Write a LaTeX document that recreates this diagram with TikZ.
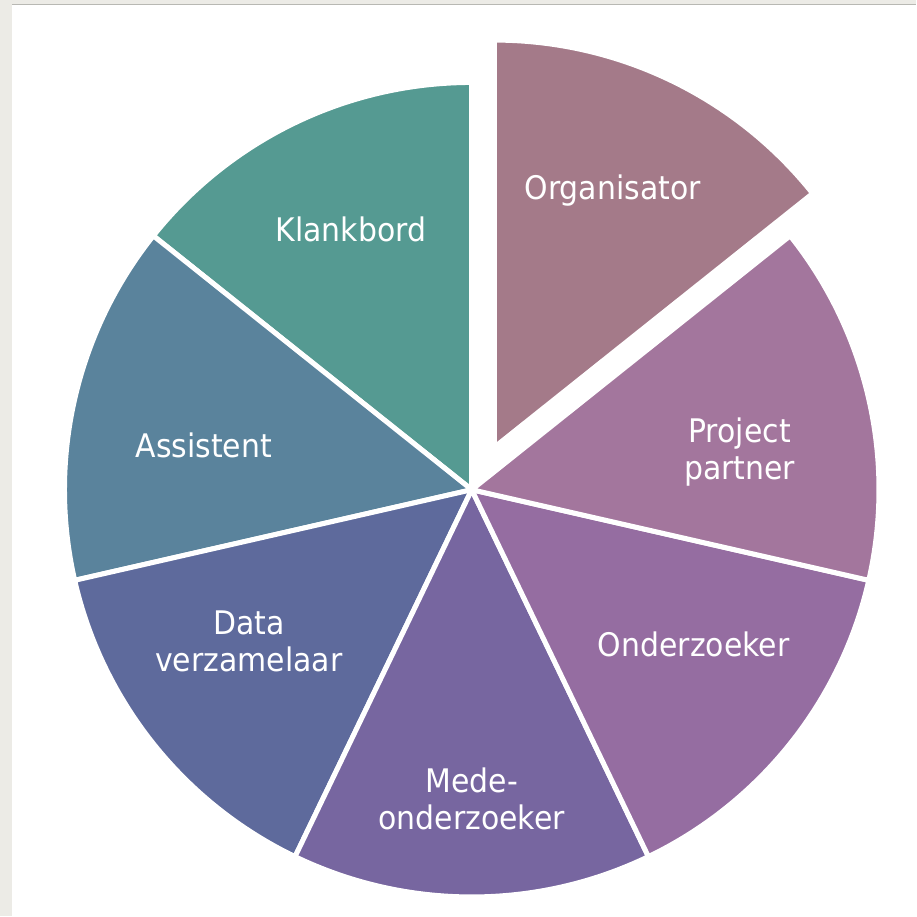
\documentclass[tikz,border=0pt]{standalone}
\usepackage{fontspec}
\usetikzlibrary{calc}
\setmainfont{DejaVu Sans}[FakeStretch=0.92]
\definecolor{organisatorcol}{HTML}{A47A89}
\definecolor{partnercol}{HTML}{A3769D}
\definecolor{onderzoekercol}{HTML}{956DA1}
\definecolor{medecol}{HTML}{7766A0}
\definecolor{datacol}{HTML}{5E6A9C}
\definecolor{assistentcol}{HTML}{5A839C}
\definecolor{klankbordcol}{HTML}{559A92}
\definecolor{framegray}{HTML}{ECEBE6}
\definecolor{framelinegray}{HTML}{B8B8B3}
\begin{document}
\begin{tikzpicture}[
	sector/.style={draw=white, line width=0.1cm, line join=miter},
	rolelabel/.style={text=white, align=center, anchor=base,
		font=\fontsize{18.5}{21}\selectfont}]
% Parameters
\def\radius{8.15}
\def\slice{51.4286}

% Frame
\fill[framegray] (0,0) rectangle (18.34,-18.34);
\fill[white] (0.24,-0.1) rectangle (18.34,-18.34);
\draw[framelinegray, line width=0.6pt] (0.24,-0.09) -- (18.34,-0.09);
\useasboundingbox (0,0) rectangle (18.34,-18.34);

% Centre of the pie
\coordinate (Centre) at (9.44,-9.80);

% Sectors, counter-clockwise from the top
\foreach \i/\col in {0/klankbordcol,1/assistentcol,2/datacol,3/medecol,
	4/onderzoekercol,5/partnercol}
{
	\fill[sector, fill=\col] (Centre) -- ++(90+\i*\slice:\radius)
		arc[start angle=90+\i*\slice, end angle=90+\i*\slice+\slice,
		radius=\radius] -- cycle;
}

% Exploded sector
\coordinate (Shifted) at ($(Centre)+(62:0.96)$);
\fill[sector, fill=organisatorcol] (Shifted) -- ++(38.57:\radius)
	arc[start angle=38.57, end angle=90, radius=\radius] -- cycle;

% Labels
\node[rolelabel] (Organisator) at (12.26,-4.00) {Organisator};
\node[rolelabel] (Klankbord) at (7.02,-4.84) {Klankbord};
\node[rolelabel] (Assistent) at (4.08,-9.16) {Assistent};
\node[rolelabel] (Onderzoeker) at (13.88,-13.14) {Onderzoeker};
\node[rolelabel] (Partner) at (14.80,-9.60) {Project\\partner};
\node[rolelabel] (Data) at (4.98,-13.44) {Data\\verzamelaar};
\node[rolelabel] (Mede) at (9.44,-16.60) {Mede-\\onderzoeker};
\end{tikzpicture}
\end{document}
